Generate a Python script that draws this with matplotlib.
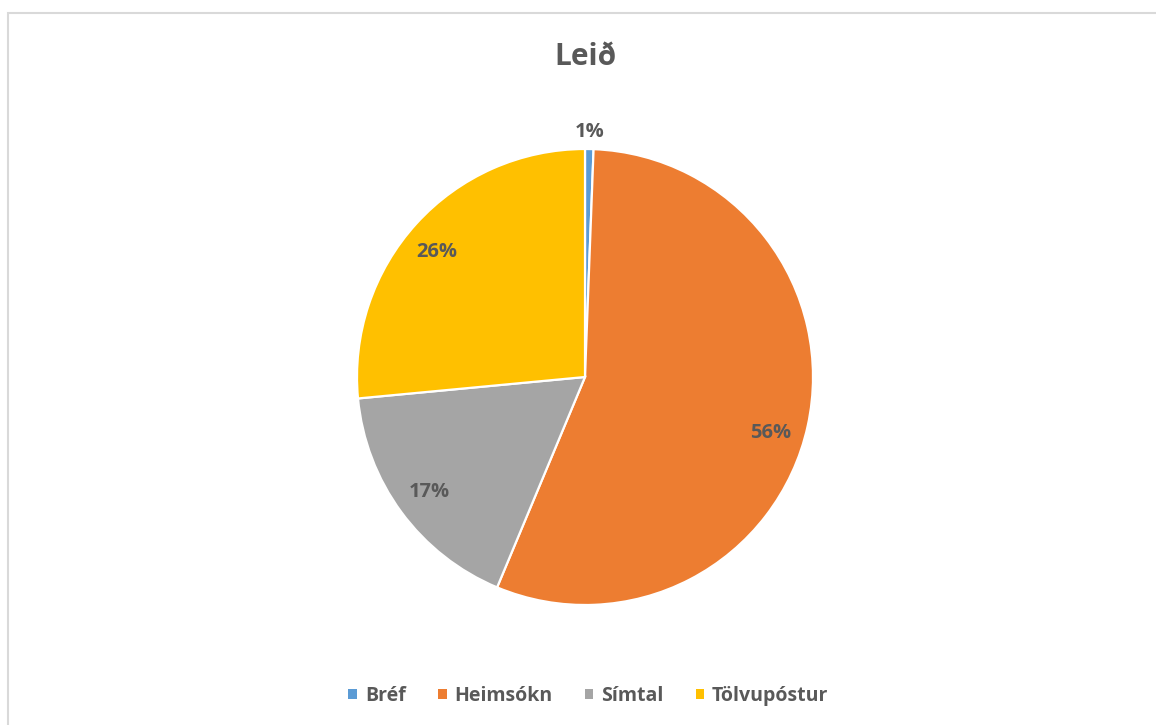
import matplotlib
matplotlib.use("Agg")
import matplotlib.pyplot as plt
from matplotlib.patches import Rectangle, Patch
import numpy as np

categories = ["Bréf", "Heimsókn", "Símtal", "Tölvupóstur"]
values = [0.6, 55.7, 17.2, 26.5]
colors = ["#5B9BD5", "#ED7D31", "#A5A5A5", "#FFC000"]
title = "Leið"

plt.rcParams['font.family'] = ['Open Sans', 'DejaVu Sans']
W, H = 1156, 725
fig = plt.figure(figsize=(W / 100, H / 100), dpi=100)

# chart area border
fig.patches.append(Rectangle((7.5 / W, -0.05), 1.2, (H - 12.5) / H + 0.05, transform=fig.transFigure,
                             fill=False, edgecolor="#D9D9D9", linewidth=1.5))

cx, cy, r = 585, 377, 228
ax = fig.add_axes([(cx - r) / W, (H - cy - r) / H, 2 * r / W, 2 * r / H])
wedges, texts, autotexts = ax.pie(values, colors=colors, startangle=90, counterclock=False,
                                  autopct=lambda p: f"{p:.0f}%", pctdistance=0.85,
                                  wedgeprops=dict(edgecolor="white", linewidth=1.6),
                                  textprops=dict(color="#595959", fontsize=14.5, fontweight="bold"))
ax.set_xlim(-1, 1)
ax.set_ylim(-1, 1)
ax.set_aspect("equal")
ax.axis("off")

for w, t in zip(wedges, autotexts):
    mid = ((w.theta1 + w.theta2) / 2) % 360
    ang = np.deg2rad(mid)
    if (w.theta2 - w.theta1) < 5:
        t.set_position((1.075 * np.cos(ang), 1.075 * np.sin(ang)))
    elif mid > 330:
        a2 = ang - np.deg2rad(4.5)
        t.set_position((0.85 * np.cos(a2), 0.85 * np.sin(a2)))
    elif 130 < mid < 150:
        a2 = ang + np.deg2rad(2.0)
        t.set_position((0.85 * np.cos(a2), 0.85 * np.sin(a2)))

fig.text(cx / W, 1 - 57 / H, title, ha="center", va="center", fontsize=21.5,
         fontweight="bold", color="#595959")

handles = [Patch(facecolor=c, edgecolor="none") for c in colors]
fig.legend(handles, categories, loc="center", bbox_to_anchor=(cx / W + 0.003, 1 - 696 / H), ncol=4,
           frameon=False, handlelength=0.45, handleheight=0.45, handletextpad=0.4,
           columnspacing=1.65, prop=dict(size=14, weight="bold"), labelcolor="#595959")

fig.savefig("out.png", dpi=100, facecolor="white")
